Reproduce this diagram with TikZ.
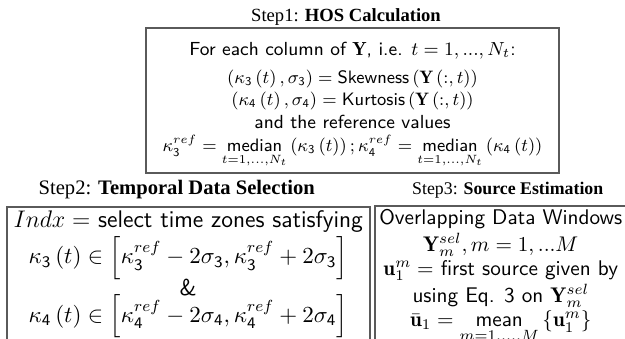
\RequirePackage{fix-cm}
\documentclass[tikz,border=0pt]{standalone}
\usepackage{amsmath}
\usepackage{fontspec}
\newfontfamily\titlefont{Liberation Serif}
\usetikzlibrary{positioning}
\definecolor{boxline}{RGB}{90,90,90}
\newcommand{\hosmath}{\fontsize{9}{11}\selectfont}

\begin{document}
\begin{tikzpicture}[
  x=0.5pt, y=-0.5pt,
  steptitle/.style={font=\titlefont\fontsize{#1}{11}\selectfont, inner sep=0pt},
  stepbox/.style={draw=boxline, line width=0.75pt, align=center, inner xsep=0pt, inner ysep=2pt},
  hosfont/.style={font=\sffamily\fontsize{9.45}{11}\selectfont},
  selfont/.style={font=\sffamily\fontsize{11.5}{12}\selectfont},
  estfont/.style={font=\sffamily\fontsize{10.6}{11}\selectfont}
]
\useasboundingbox (0,0) rectangle (625,338);
\clip (0,0) rectangle (625,338);

% Step 1: HOS calculation
\node[stepbox, hosfont, anchor=north, minimum width=206.5pt, text depth=8.5pt] (hos) at (352.5,27)
  {\rule{0pt}{12pt}For each column of $\mathbf{Y}$, i.e. $t=1,...,N_t$:\\[3pt]
   \hosmath$\left(\kappa_{\mathsf{3}}\left(t\right),\sigma_{\mathsf{3}}\right)=\text{Skewness}\left(\mathbf{Y}\left(:,t\right)\right)$\\
   \hosmath$\left(\kappa_{\mathsf{4}}\left(t\right),\sigma_{\mathsf{4}}\right)=\text{Kurtosis}\left(\mathbf{Y}\left(:,t\right)\right)$\\[0.5pt]
   and the reference values\\[0.5pt]
   \hosmath$\kappa_{\mathsf{3}}^{ref}=\mathop{\text{median}}\limits_{t=1,...,N_t}\left(\kappa_{\mathsf{3}}\left(t\right)\right);
    \kappa_{\mathsf{4}}^{ref}=\mathop{\text{median}}\limits_{t=1,...,N_t}\left(\kappa_{\mathsf{4}}\left(t\right)\right)$};
\node[steptitle=9.3, above=0.8pt of hos, xshift=-3.25pt] (hostitle) {Step1: \textbf{HOS Calculation}};

% Step 2: temporal data selection (box runs past the bottom)
\node[stepbox, selfont, anchor=north west, minimum width=181.5pt, text depth=30pt] (sel) at (6,206)
  {\fontsize{12}{12}\selectfont$Indx=$ select time zones satisfying\\[1pt]
   $\kappa_{\mathsf{3}}\left(t\right)\in\left[\kappa_{\mathsf{3}}^{ref}-2\sigma_{\mathsf{3}},\kappa_{\mathsf{3}}^{ref}+2\sigma_{\mathsf{3}}\right]$\\[-1.5pt]
   \&\\[-1.5pt]
   $\kappa_{\mathsf{4}}\left(t\right)\in\left[\kappa_{\mathsf{4}}^{ref}-2\sigma_{\mathsf{4}},\kappa_{\mathsf{4}}^{ref}+2\sigma_{\mathsf{4}}\right]$};
\node[steptitle=10.3, above=3.3pt of sel, xshift=-5.75pt] (seltitle) {Step2: \textbf{Temporal Data Selection}};

% Step 3: source estimation (box runs past the right and bottom)
\node[stepbox, estfont, anchor=north west, minimum width=126pt, text depth=30pt] (est) at (374,205)
  {Overlapping Data Windows\\[1pt]
   $\mathbf{Y}_m^{sel},m=1,...M$\\[1pt]
   $\mathbf{u}_1^m=$ first source given by\\[1pt]
   using Eq. 3 on $\mathbf{Y}_m^{sel}$\\[1pt]
   $\bar{\mathbf{u}}_1=\mathop{\text{mean}}\limits_{m=1,...,M}\left\{\mathbf{u}_1^m\right\}$};
\node[steptitle=8.9, above=3pt of est, xshift=3.5pt] (esttitle) {Step3: \textbf{Source Estimation}};
\end{tikzpicture}
\end{document}
